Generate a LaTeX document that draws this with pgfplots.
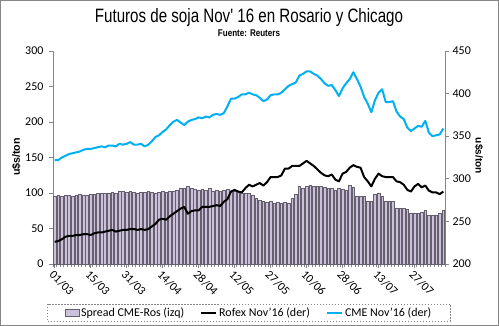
\documentclass[border=0pt]{standalone}
\usepackage{fontspec}
\setmainfont{Carlito}
\newfontfamily\lsans{Liberation Sans}
\usepackage{pgfplots}
\pgfplotsset{compat=1.18}
\usepackage{pgfplotstable}
\definecolor{axgray}{RGB}{134,134,134}
\definecolor{barfill}{RGB}{204,192,218}
\definecolor{baredge}{RGB}{100,96,110}
\definecolor{cmeblue}{RGB}{0,176,240}

\pgfplotstableread{
i spread rofex cme
0 96 226 322
1 97 227 322
2 96 229 325
3 97 232 327
4 97 233 329
5 96 233 330
6 97 234 331
7 98 234 332
8 97 235 334
9 97 235 335
10 98 234 335
11 98 236 336
12 99 237 337
13 100 237 338
14 99 238 337
15 100 239 339
16 101 240 339
17 100 238 338
18 102 239 341
19 103 240 340
20 101 240 341
21 102 241 343
22 101 241 340
23 100 240 340
24 101 241 341
25 101 240 338
26 102 241 340
27 101 244 344
28 100 247 349
29 101 252 351
30 102 253 355
31 101 252 358
32 103 256 363
33 102 259 367
34 104 262 369
35 106 265 366
36 107 267 363
37 109 259 367
38 107 262 369
39 105 263 370
40 104 263 372
41 105 267 371
42 104 267 373
43 106 267 372
44 103 268 375
45 104 269 376
46 102 268 375
47 104 273 377
48 105 276 385
49 103 285 394
50 102 287 394
51 101 285 396
52 100 284 399
53 100 289 399
54 99 293 401
55 97 291 399
56 92 293 398
57 90 295 395
58 88 292 391
59 87 296 393
60 88 302 398
61 86 302 399
62 87 302 399
63 86 304 401
64 87 312 405
65 86 312 409
66 92 315 411
67 98 315 413
68 110 315 421
69 106 318 423
70 110 321 426
71 111 318 426
72 110 315 423
73 110 311 421
74 109 307 417
75 108 304 412
76 107 303 409
77 106 305 410
78 104 299 404
79 106 297 397
80 105 306 406
81 104 308 412
82 111 313 417
83 108 316 425
84 96 314 417
85 95 313 408
86 95 302 396
87 88 297 388
88 89 291 378
89 98 300 392
90 100 306 401
91 95 303 405
92 89 302 390
93 89 302 390
94 88 302 391
95 79 297 379
96 78 296 373
97 78 293 370
98 77 287 360
99 72 285 356
100 72 291 359
101 71 294 362
102 73 290 361
103 76 292 368
104 69 286 354
105 68 284 350
106 69 284 351
107 71 282 352
108 75 285 359
}\datatable

\pgfplotsset{
  common/.style={
    scale only axis, width=392bp, height=213bp,
    at={(53bp,62bp)}, anchor=south west,
    xmin=-0.5, xmax=108.5,
    axis line style={draw=axgray, line width=0.75bp, -},
    tick style={draw=axgray, line width=0.75bp},
    tick align=outside,
    major tick length=4bp, minor tick length=3bp,
    ticklabel style={font=\fontsize{12}{14}\selectfont, text=black},
    /pgf/number format/assume math mode=true,
    enlargelimits=false,
  }
}

\begin{document}
\begin{tikzpicture}
\draw[axgray, line width=0.75bp] (0.5bp,0.5bp) rectangle (498.5bp,325.5bp);

\begin{axis}[common,
  ymin=0, ymax=300, ytick={0,50,...,300},
  axis x line*=bottom, axis y line*=left,
  xtick={0,10,...,100},
  xticklabels={01/03,15/03,31/03,14/04,28/04,12/05,27/05,10/06,28/06,13/07,27/07},
  minor xtick={-0.5,0.5,...,108.5},
  x tick label style={rotate=-45, anchor=north west, inner sep=1bp},
  y tick label style={xshift=-2bp},
]
\addplot[ybar, bar width=2.7bp, fill=barfill, draw=baredge, line width=0.5bp, solid] table[x=i,y=spread]{\datatable};
\end{axis}

\begin{axis}[common,
  ymin=200, ymax=450, ytick={200,250,...,450},
  axis x line=none, axis y line*=right,
  legend style={at={(0.5,-0.2277)}, anchor=center, draw=axgray,
    dash pattern=on 1.5bp off 1.5bp, line width=0.6bp,
    font=\fontsize{12}{14}\selectfont, legend columns=3,
    inner xsep=17bp, inner ysep=1.5bp,
    /tikz/every even column/.append style={column sep=14bp}},
  legend cell align=left,
]
\addlegendimage{legend image code/.code={\draw[fill=barfill, draw=baredge, solid, line width=0.5bp] (0bp,-3.5bp) rectangle (14bp,3.5bp);}}
\addlegendentry{Spread CME-Ros (izq)}
\addplot[black, line width=2bp, solid, line join=round,
  legend image code/.code={\draw[black, solid, line width=2bp] (0bp,0bp) -- (15bp,0bp);}]
  table[x=i,y=rofex]{\datatable};
\addlegendentry{Rofex Nov'16 (der)}
\addplot[cmeblue, line width=2bp, solid, line join=round,
  legend image code/.code={\draw[cmeblue, solid, line width=2bp] (0bp,0bp) -- (15bp,0bp);}]
  table[x=i,y=cme]{\datatable};
\addlegendentry{CME Nov'16 (der)}
\end{axis}

\node[anchor=base, inner sep=0pt] at (249bp,303bp) {\resizebox{308bp}{14bp}{\lsans Futuros de soja Nov' 16 en Rosario y Chicago}};
\node[anchor=base, inner sep=0pt] at (249bp,289.3bp) {\resizebox{62bp}{6.7bp}{\lsans\bfseries Fuente: Reuters}};
\node[rotate=90, inner sep=0pt] at (16.5bp,169bp) {\resizebox{38bp}{!}{\lsans\bfseries u\$s/ton}};
\node[rotate=-90, inner sep=0pt] at (479bp,170bp) {\resizebox{36bp}{!}{\lsans\bfseries u\$s/ton}};
\end{tikzpicture}
\end{document}
